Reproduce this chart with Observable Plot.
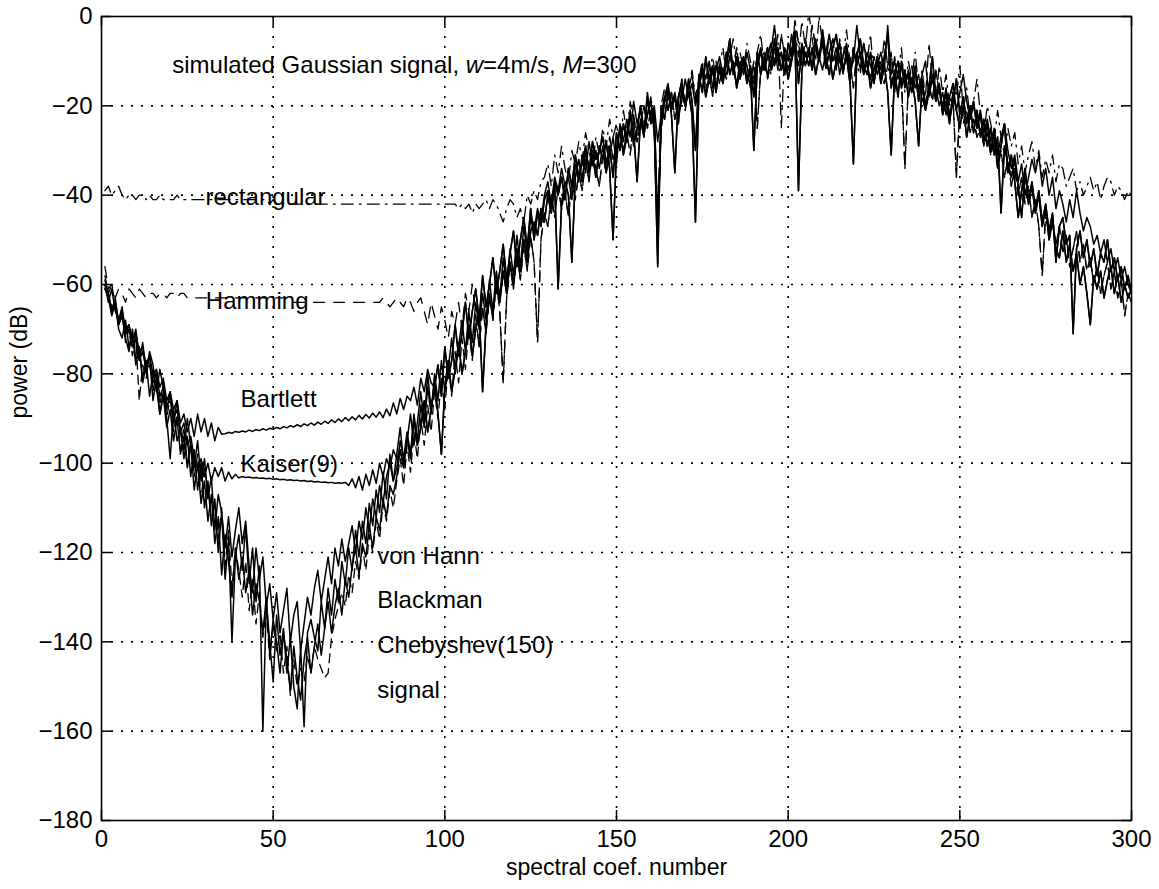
<!DOCTYPE html>
<html><head><meta charset="utf-8">
<script src="https://cdn.jsdelivr.net/npm/d3@7"></script>
<script src="https://cdn.jsdelivr.net/npm/@observablehq/plot@0.6"></script>
<style>html,body{margin:0;padding:0;background:#fff;}</style>
</head><body><div id="chart"></div>
<script>
// ---- axis ticks / grid ----
const xTicks = [0, 50, 100, 150, 200, 250, 300];
const yTicks = [0, -20, -40, -60, -80, -100, -120, -140, -160, -180];
const xGrid = [50, 100, 150, 200, 250];
const yGrid = [-20, -40, -60, -80, -100, -120, -140, -160];
const xLabel = "spectral coef. number";
const yLabel = "power (dB)";

// ---- annotations ----
const titleText = "simulated Gaussian signal, w=4m/s, M=300";
const labelText = [titleText, "rectangular", "Hamming", "Bartlett", "Kaiser(9)", "von Hann", "Blackman", "Chebyshev(150)", "signal"];
const labelX = [20.6, 30.3, 30.4, 40.5, 40.5, 80.3, 80.3, 80.3, 80.3];
const labelY = [-11, -40.5, -63.8, -85.7, -100.3, -120.9, -130.8, -140.8, -150.9];

// ---- spectra (dB); spectral coefficient 1..300 ----
// trough part, x = 1..85
const troughA = [-60,-64,-61,-66,-68,-65,-71,-69,-73,-70,
 -77,-73,-80,-75,-78,-84,-79,-83,-88,-84,
 -91,-86,-93,-97,-90,-96,-101,-95,-104,-99,
 -108,-103,-115,-107,-111,-119,-112,-121,-115,-110,
 -118,-113,-123,-129,-119,-126,-121,-132,-127,-135,
 -129,-138,-133,-128,-140,-134,-131,-142,-136,-130,
 -134,-128,-124,-131,-126,-121,-127,-119,-123,-117,
 -122,-118,-114,-120,-113,-117,-110,-115,-108,-112,
 -105,-109,-103,-100,-104];
const troughB = [-61,-63,-67,-64,-70,-72,-68,-74,-71,-78,
 -74,-81,-77,-85,-80,-83,-89,-85,-92,-88,
 -95,-90,-98,-94,-101,-96,-106,-100,-109,-104,
 -113,-107,-118,-112,-125,-116,-122,-130,-119,-126,
 -121,-129,-124,-134,-127,-131,-138,-130,-143,-135,
 -140,-147,-138,-144,-151,-141,-148,-153,-144,-139,
 -147,-141,-136,-143,-137,-131,-138,-132,-128,-134,
 -126,-130,-123,-119,-125,-118,-121,-114,-119,-112,
 -115,-108,-112,-105,-107];
const troughC = [-59,-62,-66,-63,-69,-67,-72,-75,-70,-77,
 -74,-82,-78,-76,-86,-81,-89,-84,-90,-99,
 -88,-95,-92,-99,-94,-103,-97,-106,-100,-110,
 -104,-114,-108,-120,-111,-126,-117,-140,-121,-116,
 -124,-114,-127,-119,-131,-123,-160,-131,-140,-149,
 -134,-143,-137,-147,-139,-150,-155,-141,-159,-138,
 -135,-139,-142,-131,-137,-128,-134,-126,-131,-122,
 -127,-119,-124,-115,-121,-113,-118,-109,-114,-106,
 -111,-102,-108,-98,-104];
const troughD = [-58,-62,-60,-65,-69,-66,-73,-70,-76,-72,
 -86,-78,-81,-76,-84,-79,-87,-82,-90,-85,
 -93,-89,-97,-92,-100,-95,-103,-98,-108,-101,
 -106,-112,-109,-117,-110,-123,-115,-128,-119,-124,
 -130,-122,-133,-126,-136,-129,-139,-133,-144,-136,
 -142,-138,-147,-141,-152,-144,-150,-146,-149,-143,
 -147,-141,-144,-146,-148,-147,-139,-135,-132,-129,
 -132,-125,-129,-122,-126,-119,-124,-116,-120,-113,
 -117,-109,-113,-106,-110];
// rising flank, x = 86..125
const riseA = [-98,-92,-100,-95,-89,-96,-91,-84,-91,-80,
 -88,-83,-78,-85,-74,-81,-77,-69,-76,-71,
 -64,-72,-66,-61,-68,-58,-65,-60,-54,-62,
 -57,-51,-59,-53,-48,-56,-50,-45,-52,-43];
const riseB = [-103,-97,-101,-94,-99,-90,-96,-92,-86,-93,
 -88,-82,-89,-98,-83,-77,-84,-79,-73,-80,
 -75,-69,-76,-70,-66,-84,-69,-63,-67,-59,
 -64,-57,-62,-55,-60,-52,-57,-50,-55,-48];
const riseC = [-101,-95,-99,-93,-98,-89,-95,-87,-92,-83,
 -89,-80,-86,-77,-84,-79,-72,-80,-74,-68,
 -75,-66,-73,-64,-70,-62,-68,-59,-66,-57,
 -63,-54,-61,-52,-58,-49,-56,-47,-53,-45];
const riseD = [-104,-99,-105,-96,-102,-93,-99,-90,-96,-87,
 -93,-84,-90,-81,-88,-78,-85,-75,-82,-72,
 -79,-70,-77,-67,-74,-65,-71,-62,-68,-59,
 -66,-82,-63,-56,-61,-53,-59,-51,-57,-49];
// main lobe, x = 126..300
const peakA = [-50,-44,-47,-41,-39,-43,-37,-40,-36,-41,
 -34,-38,-31,-36,-33,-29,-35,-28,-32,-30,
 -27,-33,-29,-36,-26,-30,-24,-28,-22,-26,
 -37,-23,-27,-18,-24,-21,-47,-25,-19,-16,
 -22,-35,-18,-15,-20,-14,-19,-30,-13,-17,
 -9,-15,-12,-17,-11,-14,-8,-13,-10,-16,
 -12,-9,-14,-11,-18,-8,-13,-10,-7,-12,
 -5,-10,-8,-13,-6,-9,-4,-15,-7,-11,
 -8,-12,-6,-10,-3,-9,-13,-7,-4,-10,
 -12,-8,-14,-33,-9,-5,-11,-13,-8,-15,
 -10,-14,-9,-4,-16,-12,-18,-10,-15,-13,
 -17,-12,-19,-14,-20,-16,-9,-18,-15,-21,
 -17,-23,-19,-14,-22,-18,-24,-20,-26,-21,
 -27,-23,-29,-25,-31,-27,-44,-29,-33,-36,
 -32,-38,-45,-35,-41,-37,-43,-39,-46,-42,
 -48,-44,-55,-47,-45,-51,-49,-71,-52,-48,
 -54,-50,-56,-52,-58,-53,-55,-50,-57,-54,
 -59,-56,-61,-58,-62];
const peakB = [-46,-49,-43,-46,-40,-44,-38,-61,-42,-37,
 -40,-55,-36,-32,-37,-30,-34,-31,-36,-29,
 -32,-28,-34,-50,-30,-25,-31,-27,-21,-29,
 -25,-20,-26,-22,-19,-25,-56,-20,-23,-17,
 -21,-18,-24,-16,-20,-17,-22,-46,-16,-12,
 -18,-14,-11,-16,-12,-15,-10,-5,-13,-9,
 -14,-10,-15,-12,-30,-11,-8,-12,-9,-6,
 -11,-7,-12,-9,-14,-10,-6,-39,-12,-8,
 -11,-7,-13,-9,-5,-11,-8,-14,-10,-6,
 -12,-9,-15,-7,-11,-8,-13,-10,-16,-12,
 -9,-15,-11,-17,-31,-13,-10,-16,-12,-18,
 -14,-19,-29,-15,-21,-17,-13,-19,-16,-22,
 -19,-24,-17,-21,-25,-20,-27,-22,-19,-25,
 -22,-28,-24,-30,-26,-33,-29,-24,-35,-31,
 -37,-45,-39,-34,-42,-38,-44,-40,-47,-43,
 -50,-46,-52,-54,-48,-55,-51,-57,-53,-60,
 -56,-62,-69,-58,-61,-57,-63,-59,-56,-62,
 -58,-64,-60,-63,-61];
const peakC = [-48,-43,-46,-40,-37,-42,-36,-39,-34,-38,
 -36,-41,-33,-37,-31,-35,-28,-33,-30,-34,
 -29,-35,-31,-27,-33,-24,-28,-23,-27,-19,
 -24,-21,-26,-17,-23,-20,-28,-22,-18,-15,
 -20,-17,-22,-19,-14,-18,-15,-20,-16,-11,
 -14,-10,-16,-12,-9,-13,-11,-7,-12,-15,
 -10,-13,-8,-12,-15,-10,-7,-11,-13,-8,
 -2,-9,-12,-7,-10,-4,-8,-11,-6,-9,
 -7,-11,-5,-9,-12,-8,-4,-10,-7,-13,
 -9,-6,-12,-10,-2,-9,-12,-8,-11,-14,
 -11,-8,-12,-2,-13,-10,-14,-11,-16,-12,
 -15,-11,-17,-13,-10,-18,-14,-16,-20,-17,
 -22,-18,-15,-21,-17,-13,-19,-23,-20,-24,
 -21,-26,-23,-28,-25,-31,-27,-24,-30,-34,
 -31,-37,-33,-40,-36,-32,-35,-31,-38,-34,
 -40,-36,-43,-39,-42,-46,-41,-45,-39,-44,
 -48,-45,-47,-51,-49,-53,-50,-55,-52,-57,
 -54,-59,-56,-60,-62];
const peakD = [-55,-73,-50,-44,-47,-40,-45,-38,-43,-39,
 -45,-37,-41,-35,-39,-32,-37,-30,-34,-38,
 -31,-35,-27,-32,-29,-25,-30,-26,-31,-22,
 -28,-24,-20,-25,-21,-26,-49,-23,-18,-21,
 -17,-23,-19,-14,-21,-16,-13,-19,-15,-12,
 -17,-13,-18,-10,-15,-11,-14,-9,-12,-7,
 -13,-9,-11,-16,-10,-25,-12,-8,-14,-10,
 -7,-12,-4,-9,-13,-8,-1,-6,-11,-5,
 -9,-2,-7,-10,-6,-12,-8,-5,-11,-9,
 -13,-7,-10,-16,-8,-12,-6,-11,-14,-9,
 -13,-10,-15,-11,-8,-17,-12,-14,-34,-15,
 -11,-16,-13,-18,-21,-15,-19,-12,-17,-20,
 -16,-22,-18,-36,-20,-24,-21,-26,-23,-27,
 -25,-29,-26,-31,-28,-34,-30,-36,-32,-38,
 -34,-40,-36,-42,-38,-45,-41,-47,-58,-44,
 -49,-45,-51,-47,-53,-49,-56,-52,-48,-55,
 -51,-57,-54,-60,-56,-62,-58,-55,-61,-57,
 -63,-59,-67,-62,-64];
// rectangular window: x = 1..128, 129..265, 266..300
const rectLow = [-39,-38,-40,-39,-38,-40,-41,-40,-40,-41,
 -40,-40,-41,-40,-41,-41,-40,-41,-41,-41,
 -41,-40,-41,-41,-41,-41,-41,-41,-41,-41,
 -41,-41,-41,-41,-41,-41,-41,-41,-41,-41,
 -41,-41,-41,-41,-41,-41,-41,-41,-42,-41,
 -42,-42,-42,-42,-42,-42,-42,-42,-42,-42,
 -42,-42,-42,-42,-42,-42,-42,-42,-42,-42,
 -42,-42,-42,-42,-42,-42,-42,-42,-42,-42,
 -42,-42,-42,-42,-42,-42,-42,-42,-42,-42,
 -42,-42,-42,-42,-42,-42,-42,-42,-42,-42,
 -42,-42,-42,-43,-42,-43,-42,-44,-42,-43,
 -42,-41,-43,-41,-42,-44,-46,-43,-41,-42,
 -45,-43,-46,-40,-42,-39,-41,-37];
const rectMid = [-36,-33,-38,-31,-35,-29,-34,-37,-30,-33,
 -28,-32,-26,-30,-34,-27,-31,-25,-29,-23,
 -27,-24,-30,-21,-26,-19,-24,-28,-20,-25,
 -22,-18,-24,-44,-20,-16,-21,-17,-23,-19,
 -14,-20,-16,-12,-18,-14,-10,-16,-12,-9,
 -14,-11,-7,-13,-9,-5,-11,-8,-12,-6,
 -10,-14,-8,-4,-11,-7,-13,-9,-4,-25,
 -8,-12,-6,-3,-9,-1,-7,1,-5,-10,
 0,-6,-11,-4,-8,-12,-5,-9,-3,-10,
 -7,-11,-13,-6,-10,-4,-14,-8,-12,-5,
 -11,-15,-9,-13,-7,-17,-10,-14,-8,-16,
 -12,-18,-6,-14,-19,-11,-17,-13,-20,-15,
 -18,-11,-21,-16,-23,-19,-14,-22,-26,-20,
 -24,-28,-21,-27,-31,-25,-29];
const rectTail = [-26,-33,-29,-35,-31,-28,-34,-30,-36,-32,
 -35,-31,-37,-33,-34,-38,-36,-34,-39,-37,
 -40,-38,-36,-39,-37,-41,-38,-36,-37,-40,
 -38,-39,-41,-39,-40];
// Hamming window leakage floor, x = 1..108
const hammingLow = [-56,-61,-60,-63,-61,-62,-64,-61,-62,-63,
 -61,-62,-63,-62,-62,-63,-62,-62,-63,-62,
 -62,-63,-62,-62,-63,-63,-63,-63,-63,-63,
 -63,-63,-63,-63,-63,-63,-63,-63,-63,-63,
 -63,-63,-63,-63,-63,-63,-63,-63,-63,-63,
 -63,-63,-63,-63,-64,-64,-64,-64,-64,-64,
 -64,-64,-64,-64,-64,-64,-64,-64,-64,-64,
 -64,-64,-64,-64,-64,-64,-64,-64,-64,-64,
 -64,-63,-64,-65,-64,-63,-64,-65,-63,-64,
 -66,-64,-63,-66,-69,-64,-67,-70,-65,-68,
 -72,-66,-69,-64,-70,-62,-66,-60];
// Bartlett leakage floor, x = 1..96
const bartlettLow = [-60,-63,-65,-64,-68,-66,-70,-69,-73,-71,
 -75,-74,-78,-76,-80,-79,-83,-81,-86,-84,
 -88,-86,-91,-89,-93,-90,-94,-89,-93,-90,
 -94,-91,-95,-92,-93.5,
 -93.4,-93.1,-93.3,-92.9,-93.1,-92.8,-93,-92.6,-92.9,-92.5,-92.7,-92.3,-92.6,-92.2,-92.4,
 -92,-92.3,-91.8,-92.1,-91.6,-91.9,-91.4,-91.8,-91.2,-91.6,-91,-91.5,-90.8,-91.3,-90.6,
 -91.1,-90.3,-90.9,-90.1,-90.7,-89.8,-90.5,-89.6,-90.3,-89.3,-90.1,-89.1,-89.9,-88.8,-89.7,
 -88.5,-89.8,-87.9,-89.4,-86.5,-89,-85.5,-88,-85,
 -86,-83,-87,-81,-84,-79,-82];
// Kaiser(9) leakage floor, x = 1..86
const kaiserLow = [-61,-62,-66,-65,-69,-67,-71,-70,-74,-72,
 -77,-75,-79,-78,-82,-80,-85,-83,-87,-86,
 -90,-88,-93,-91,-96,-94,-99,-101,-99,-103,
 -100,-104,-101,-103,-101,-104,-102,-103.5,-102.5,-103.3,
 -103,-103.2,-103.1,-103.3,-103.2,-103.4,-103.3,-103.5,-103.4,-103.6,-103.5,-103.7,-103.6,-103.8,-103.7,
 -103.9,-103.8,-104,-103.9,-104.1,-104,-104.2,-104.1,-104.3,-104.2,-104.4,-104.3,-104.5,-104.4,-104.5,
 -104.3,-105,-103.5,-105.5,-103,-106,-102.5,-105,-101.5,-104.5,-100,-103,-99,-101,-97,-99];

function seg(x0, vals) { return vals.map((v, i) => ({x: x0 + i, y: v})); }

const series = [
  {name: "rectangular", dash: "12,6,2,6", pts: [...seg(1, rectLow), ...seg(129, rectMid), ...seg(266, rectTail)]},
  {name: "Hamming", dash: "11,9", pts: [...seg(1, hammingLow), ...seg(109, riseD.slice(23)), ...seg(126, peakD)]},
  {name: "Bartlett", dash: null, pts: [...seg(1, bartlettLow), ...seg(97, riseA.slice(11)), ...seg(126, peakA)]},
  {name: "Kaiser(9)", dash: null, pts: [...seg(1, kaiserLow), ...seg(87, riseB.slice(1)), ...seg(126, peakB)]},
  {name: "von Hann", dash: null, pts: [...seg(1, troughA), ...seg(86, riseA), ...seg(126, peakA)]},
  {name: "Blackman", dash: null, pts: [...seg(1, troughB), ...seg(86, riseB), ...seg(126, peakB)]},
  {name: "Chebyshev(150)", dash: null, pts: [...seg(1, troughC), ...seg(86, riseC), ...seg(126, peakC)]},
  {name: "signal", dash: "9,6", pts: [...seg(1, troughD), ...seg(86, riseD), ...seg(126, peakD)]}
];

const FONT = '"Liberation Sans", Arial, Helvetica, sans-serif';
const W = 1159, H = 889, mL = 101, mR = 28, mT = 16, mB = 69;
const plotW = W - mL - mR, plotH = H - mT - mB;
const TICK = 10;

const chart = Plot.plot({
  width: W, height: H,
  marginLeft: mL, marginRight: mR, marginTop: mT, marginBottom: mB,
  style: {fontFamily: FONT, fontSize: "24px", background: "white", color: "black", overflow: "visible"},
  x: {domain: [0, 300], ticks: xTicks, tickSize: 0, tickPadding: 9, label: null},
  y: {domain: [-180, 0], ticks: yTicks, tickSize: 0, tickPadding: 9, label: null},
  marks: [
    Plot.ruleX(xGrid, {x: d => d, stroke: "black", strokeWidth: 1.6, strokeDasharray: "2,8"}),
    Plot.ruleY(yGrid, {y: d => d, stroke: "black", strokeWidth: 1.6, strokeDasharray: "2,8"}),
    ...series.map(s => Plot.line(s.pts, {x: "x", y: "y", stroke: "black", strokeWidth: s.dash ? 1.3 : 1.5,
      strokeDasharray: s.dash || undefined, clip: true})),
    Plot.tickX(xTicks, {x: d => d, insetTop: plotH - TICK, stroke: "black", strokeWidth: 1.5}),
    Plot.tickX(xTicks, {x: d => d, insetBottom: plotH - TICK, stroke: "black", strokeWidth: 1.5}),
    Plot.tickY(yTicks, {y: d => d, insetRight: plotW - TICK, stroke: "black", strokeWidth: 1.5}),
    Plot.tickY(yTicks, {y: d => d, insetLeft: plotW - TICK, stroke: "black", strokeWidth: 1.5}),
    Plot.frame({stroke: "black", strokeWidth: 1.6}),
    Plot.text(labelText, {x: (d, i) => labelX[i], y: (d, i) => labelY[i], text: d => d,
      textAnchor: "start", fill: "black", fontSize: 24}),
    Plot.text([xLabel], {frameAnchor: "bottom", dy: 54, text: d => d, fill: "black", fontSize: 23}),
    Plot.text([yLabel], {frameAnchor: "left", dx: -82, rotate: -90, text: d => d, fill: "black", fontSize: 23})
  ]
});

// italic w and M in the annotation
const titleParts = [["simulated Gaussian signal, ", false], ["w", true], ["=4m/s, ", false], ["M", true], ["=300", false]];
d3.select(chart).selectAll("text").each(function () {
  if (this.textContent === titleText) {
    const t = d3.select(this);
    t.text(null);
    titleParts.forEach(([s, it]) => t.append("tspan").attr("font-style", it ? "italic" : null).text(s));
  }
});

document.getElementById("chart").appendChild(chart);
</script>
</body></html>
